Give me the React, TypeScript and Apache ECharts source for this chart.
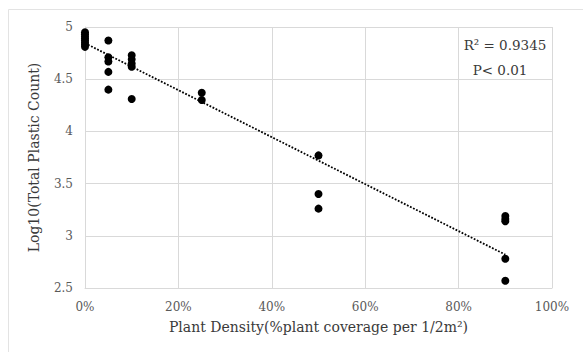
import React, { useEffect, useRef } from "react";
import * as echarts from "echarts";

const xGroups = [0, 0.05, 0.1, 0.25, 0.5, 0.9];
const yGroup0 = [4.95, 4.93, 4.91, 4.89, 4.87, 4.85, 4.83, 4.81];
const yGroup5 = [4.87, 4.71, 4.67, 4.57, 4.4];
const yGroup10 = [4.73, 4.69, 4.65, 4.62, 4.31];
const yGroup25 = [4.37, 4.3];
const yGroup50 = [3.77, 3.4, 3.26];
const yGroup90 = [3.19, 3.16, 3.14, 2.78, 2.57];
const trendX = [0, 0.9];
const trendY = [4.845, 2.82];
const annotation = ["R² = 0.9345", "P< 0.01"];
const xTitle = "Plant Density(%plant coverage per 1/2m²)";
const yTitle = "Log10(Total Plastic Count)";

const FONT = "DejaVu Serif";

export default function App() {
  const ref = useRef<HTMLDivElement>(null);
  useEffect(() => {
    if (!ref.current) return;
    const chart = echarts.init(ref.current, null, { renderer: "svg" });
    const groups = [yGroup0, yGroup5, yGroup10, yGroup25, yGroup50, yGroup90];
    const points: number[][] = [];
    groups.forEach((g, i) => g.forEach((v) => points.push([xGroups[i], v])));
    chart.setOption({
      animation: false,
      backgroundColor: "#ffffff",
      textStyle: { fontFamily: FONT },
      grid: { left: 85, right: 31, top: 27, bottom: 64, containLabel: false },
      xAxis: {
        type: "value",
        min: 0,
        max: 1,
        interval: 0.2,
        axisLine: { show: true, lineStyle: { color: "#d9d9d9" } },
        axisTick: { show: false },
        splitLine: { show: true, lineStyle: { color: "#d9d9d9" } },
        axisLabel: {
          formatter: (v: number) => Math.round(v * 100) + "%",
          color: "#595959",
          fontSize: 12,
          fontFamily: FONT,
          margin: 13,
        },
        name: xTitle,
        nameLocation: "middle",
        nameGap: 32,
        nameTextStyle: { color: "#3a3a3a", fontSize: 14, fontFamily: FONT },
      },
      yAxis: {
        type: "value",
        min: 2.5,
        max: 5,
        interval: 0.5,
        axisLine: { show: true, lineStyle: { color: "#d9d9d9" } },
        axisTick: { show: false },
        splitLine: { show: true, lineStyle: { color: "#d9d9d9" } },
        axisLabel: {
          color: "#595959",
          fontSize: 12,
          fontFamily: FONT,
          margin: 12,
        },
        name: yTitle,
        nameLocation: "middle",
        nameGap: 44,
        nameRotate: 90,
        nameTextStyle: { color: "#3a3a3a", fontSize: 14, fontFamily: FONT },
      },
      graphic: [
        {
          type: "rect",
          shape: { x: 8.5, y: 9.5, width: 700, height: 500 },
          style: { fill: "none", stroke: "#e3e3e3", lineWidth: 1 },
          silent: true,
        },
        {
          type: "text",
          x: 505,
          y: 45,
          style: {
            text: annotation[0],
            fontSize: 13.5,
            fontFamily: FONT,
            fill: "#3a3a3a",
            align: "center",
            verticalAlign: "middle",
          },
        },
        {
          type: "text",
          x: 500,
          y: 70,
          style: {
            text: annotation[1],
            fontSize: 13.5,
            fontFamily: FONT,
            fill: "#3a3a3a",
            align: "center",
            verticalAlign: "middle",
          },
        },
      ],
      series: [
        {
          type: "line",
          data: trendX.map((x, i) => [x, trendY[i]]),
          symbol: "none",
          lineStyle: { color: "#000000", width: 1.8, type: [1.8, 1.6] },
          z: 1,
        },
        {
          type: "scatter",
          data: points,
          symbol: "circle",
          symbolSize: 8,
          itemStyle: { color: "#000000", opacity: 1 },
          z: 2,
        },
      ],
    });
    return () => chart.dispose();
  }, []);
  return (
    <div
      ref={ref}
      style={{ position: "absolute", left: 0, top: 0, width: 583, height: 352 }}
    />
  );
}
